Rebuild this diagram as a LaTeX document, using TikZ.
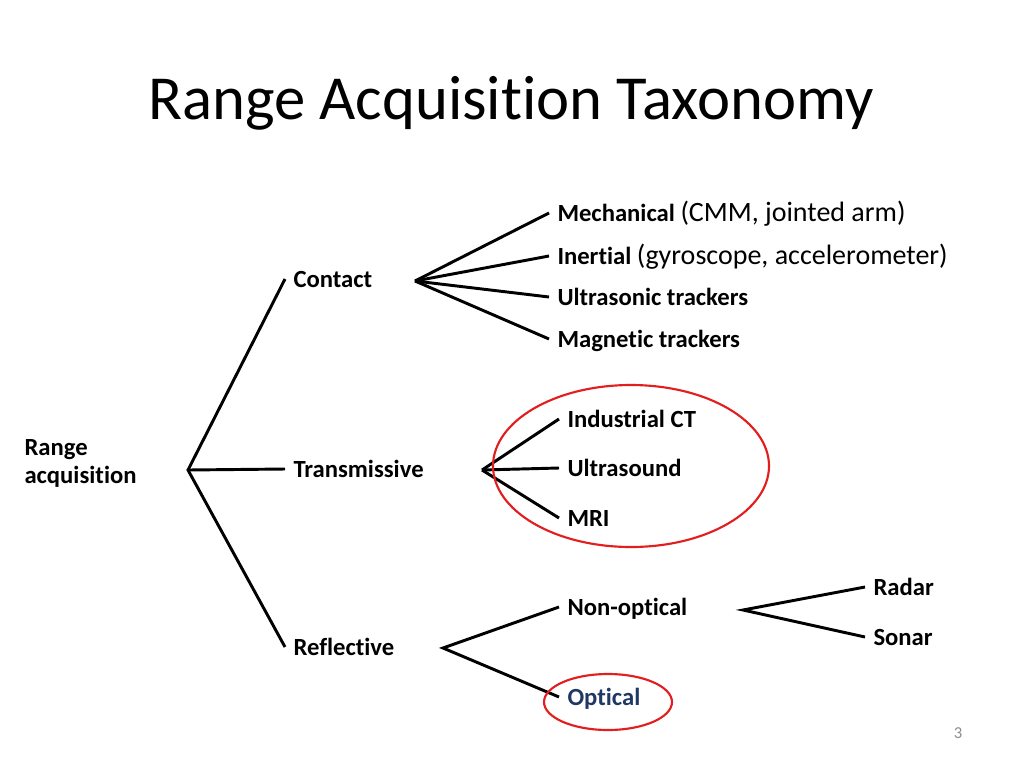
\documentclass[tikz,border=0pt]{standalone}
\usepackage{fontspec}
\setmainfont{Carlito}[Ligatures={NoCommon}, RawFeature={-liga}]
\definecolor{ringred}{RGB}{226,30,30}
\definecolor{optblue}{RGB}{31,56,100}
\definecolor{pagegray}{RGB}{140,140,140}

\tikzset{every picture/.style={line width=0.75pt}}
\tikzset{
	leaf/.style={anchor=west, inner sep=6pt, text height=14pt, text depth=2pt,
		font=\fontsize{18.5}{22}\selectfont\bfseries},
	branch/.style={line width=2.2},
	ring/.style={draw=ringred, line width=1.6}}
\newcommand{\paren}[1]{{\fontsize{21}{25}\selectfont\mdseries #1}}

\begin{document}
\begin{tikzpicture}[x=0.75pt,y=0.75pt,yscale=-1,xscale=1]
	%set diagram area to the slide, 1024 x 768
	\path (0,0) rectangle (1024,768);

	% Title
	\node (title) at (511,103) {\fontsize{47}{56}\selectfont Range Acquisition Taxonomy};

	% Root
	\node (root) [anchor=west, align=left, inner sep=0pt, font=\fontsize{18.5}{21}\selectfont\bfseries] at (24,463) {Range\\acquisition};
	\coordinate (rootJ) at (188,470);

	% First level
	\node (contact) [leaf] at (285,279) {Contact};
	\node (trans) [leaf] at (285,469) {Transmissive};
	\node (refl) [leaf] at (285,647) {Reflective};
	\coordinate (contactJ) at (415,281);
	\coordinate (transJ) at (482,470);
	\coordinate (reflJ) at (443,648);

	% Contact leaves
	\node (mech) [leaf] at (549,213) {Mechanical \paren{(CMM, jointed arm)}};
	\node (inert) [leaf] at (549,256) {Inertial \paren{(gyroscope, accelerometer)}};
	\node (ultra) [leaf] at (549,297) {Ultrasonic trackers};
	\node (magn) [leaf] at (549,339) {Magnetic trackers};

	% Transmissive leaves
	\node (ct) [leaf] at (559,419) {Industrial CT};
	\node (usound) [leaf] at (559,468) {Ultrasound};
	\node (mri) [leaf] at (559,518) {MRI};

	% Reflective leaves
	\node (nonopt) [leaf] at (559,607) {Non-optical};
	\node (opt) [leaf, text=optblue] at (559,697) {Optical};
	\coordinate (nonoptJ) at (743,610);
	\node (radar) [leaf] at (865,587) {Radar};
	\node (sonar) [leaf] at (865,637) {Sonar};

	%Straight Lines
	\draw [branch] (contact.west) -- (rootJ) -- (refl.west);
	\draw [branch] (rootJ) -- (trans.west);
	\foreach \n in {mech,inert,ultra,magn} \draw [branch] (contactJ) -- (\n.west);
	\foreach \n in {ct,usound,mri} \draw [branch] (transJ) -- (\n.west);
	\draw [branch] (nonopt.west) -- (reflJ) -- (opt.west);
	\draw [branch] (radar.west) -- (nonoptJ) -- (sonar.west);

	% Red rings
	\draw [ring] (631,466) ellipse [x radius=138, y radius=81];
	\draw [ring] (608,702) ellipse [x radius=64, y radius=28];

	% Page number
	\node (pagenum) [text=pagegray, font=\fontsize{12.5}{15}\selectfont] at (958,733) {3};

\end{tikzpicture}
\end{document}
